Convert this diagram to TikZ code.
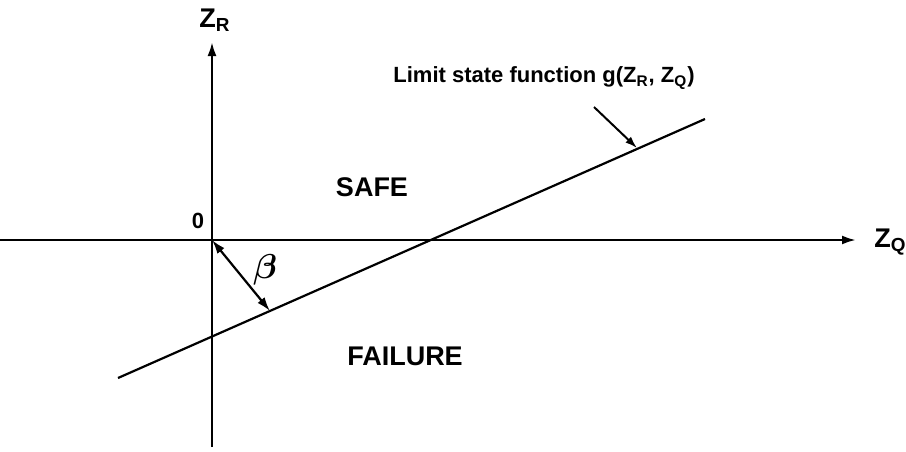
\documentclass[tikz,border=0pt]{standalone}
\usepackage{bm}
\usepackage{fontspec}
\setmainfont{Liberation Sans}
\usetikzlibrary{arrows.meta}
\tikzset{
    axis/.style={line width=1.2pt, -{Latex[length=7pt,width=4.5pt]}},
    lsf/.style={line width=1.1pt},
    lbl/.style={font=\bfseries\fontsize{13.5}{15}\selectfont, inner sep=0pt},
}
\begin{document}
\begin{tikzpicture}[x=0.5pt, y=-0.5pt]
    \useasboundingbox (0,0) rectangle (906,451);
    % axes
    \coordinate (O) at (212,240);
    \coordinate (xl) at (0,240);
    \coordinate (xr) at (856,240);
    \coordinate (yb) at (212,447);
    \coordinate (yt) at (212,42);
    \draw[axis] (xl) -- (xr);
    \draw[axis] (yb) -- (yt);
    \node[lbl, anchor=west] (zq) at (874,242) {Z\textsubscript{Q}};
    \node[lbl] (zr) at (215,20) {Z\textsubscript{R}};
    \node[lbl, font=\bfseries\fontsize{11}{13}\selectfont] (orig) at (198,221) {0};
    % limit state line
    \coordinate (la) at (118,378);
    \coordinate (lb) at (705,119);
    \draw[lsf] (la) -- (lb);
    \coordinate (foot) at (270,311);
    \draw[line width=1.1pt, {Latex[length=7pt,width=4.5pt]}-{Latex[length=7pt,width=4.5pt]}] (O) -- (foot);
    \node[font=\fontsize{16}{18}\selectfont] (beta) at (265,270) {$\bm{\beta}$};
    % labels
    \node[lbl] (safe) at (372,187) {SAFE};
    \node[lbl] (fail) at (405,356) {FAILURE};
    \node[lbl, font=\bfseries\fontsize{11}{13}\selectfont, anchor=west] (lim) at (393,78)
        {Limit state function g(Z\textsubscript{R}, Z\textsubscript{Q})};
    \coordinate (tail) at (594,107);
    \coordinate (ptr) at (637,148);
    \draw[line width=1pt, -{Latex[length=6pt,width=4pt]}] (tail) -- (ptr);
\end{tikzpicture}
\end{document}
